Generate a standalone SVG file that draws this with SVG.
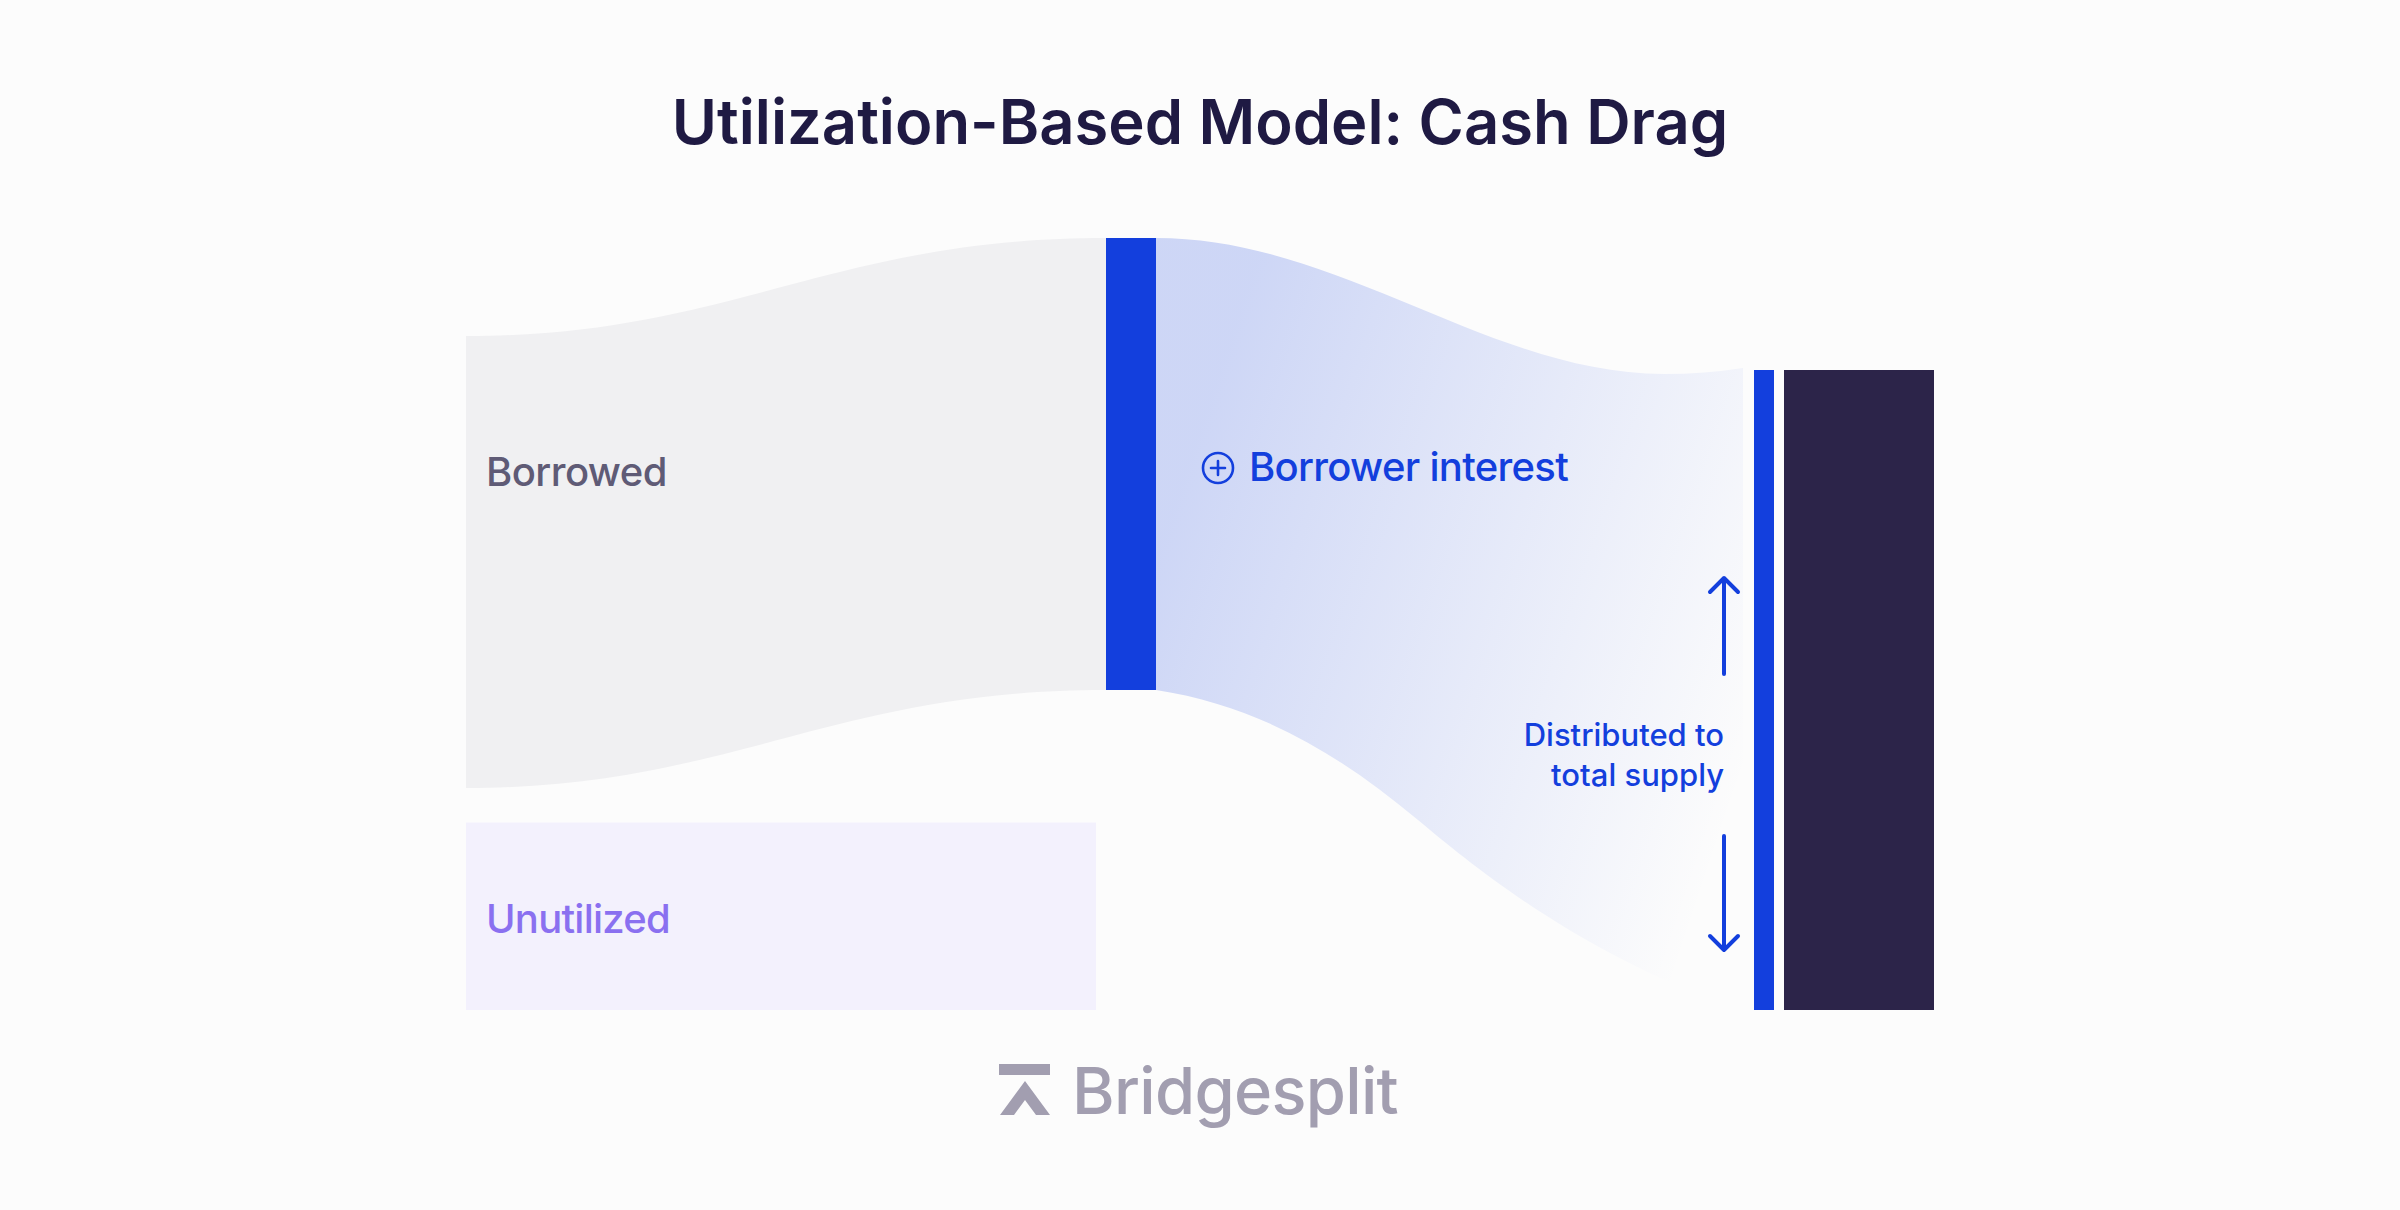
<svg xmlns="http://www.w3.org/2000/svg" width="2400" height="1210" viewBox="0 0 2400 1210">
<style>
text{font-family:"Inter","Liberation Sans",sans-serif;font-weight:500}
.blue{fill:#133fdd}
.ln{fill:none;stroke:#133fdd;stroke-width:4;stroke-linecap:round;stroke-linejoin:round}
.thin{stroke-width:2.6}
</style>
<defs>
<linearGradient id="g" gradientUnits="userSpaceOnUse" x1="1156" y1="560" x2="1750" y2="760">
<stop offset="0" stop-color="#133fdd" stop-opacity=".2"/>
<stop offset="1" stop-color="#133fdd" stop-opacity="0"/>
</linearGradient>
</defs>
<rect width="2400" height="1210" fill="#fcfcfc"/>
<text x="1200" y="144" font-size="61.5" style="font-weight:600" text-anchor="middle" fill="#1f1a43" id="title">Utilization-Based Model: Cash Drag</text>
<g id="connectors">
<path id="flow-borrowed" d="M466 336C730 336 830 238 1106 238V690C830 690 730 788 466 788Z" fill="#f0f0f2"/>
<path id="flow-interest" d="M1156 238C1340 238 1490 374 1664 374Q1705 374 1743 368V1010C1590 960 1480 872 1418 820C1340 755 1260 706 1156 690Z" fill="url(#g)"/>
</g>
<g id="node-borrowed"><text x="486" y="486" font-size="40" letter-spacing="-.55" fill="#5f5b76">Borrowed</text></g>
<g id="node-unutilized"><rect x="466" y="822.5" width="630" height="187.5" fill="#f3f1fd"/><text x="486" y="933" font-size="40" letter-spacing="-.76" fill="#8a70f0">Unutilized</text></g>
<g id="node-center"><rect class="blue" x="1106" y="238" width="50" height="452"/></g>
<g id="node-interest"><circle class="ln thin" cx="1218" cy="468" r="15"/><path class="ln thin" d="M1211 468H1225M1218 461V475"/><text x="1249" y="481" font-size="40" letter-spacing="-.7" class="blue">Borrower interest</text></g>
<g id="node-distributed">
<text x="1724" y="746" font-size="31" text-anchor="end" class="blue">Distributed to</text>
<text x="1724" y="786" font-size="31" text-anchor="end" class="blue">total supply</text>
<path class="ln" d="M1724 674V578M1710 592L1724 578L1738 592"/>
<path class="ln" d="M1724 836V950M1710 936L1724 950L1738 936"/>
</g>
<g id="node-supply"><rect class="blue" x="1754" y="370" width="20" height="640"/><rect x="1784" y="370" width="150" height="640" fill="#2c2449"/></g>
<g id="logo"><path d="M999 1064H1050V1075H999ZM1000 1115L1025 1081L1050 1115H1036L1025 1100L1014 1115Z" fill="#a29eb0"/><text x="1072" y="1114" font-size="65" letter-spacing="-.7" fill="#a29eb0">Bridgesplit</text></g>
</svg>
